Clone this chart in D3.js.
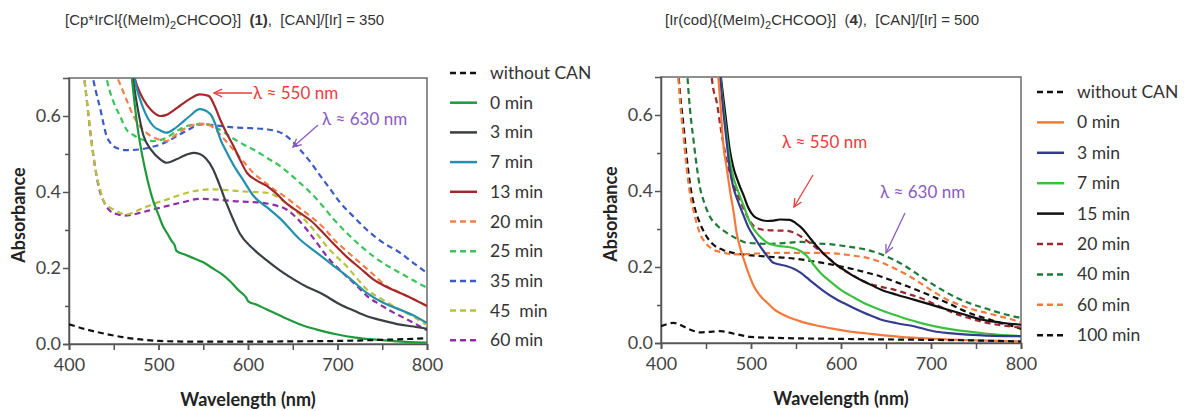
<!DOCTYPE html>
<html><head><meta charset="utf-8">
<script src="https://cdn.jsdelivr.net/npm/d3@7"></script>
<style>
body{margin:0;background:#fff;}
svg{display:block;}
.tick text{font-family:Lato, "Open Sans", sans-serif;font-size:18px;fill:#444;}
</style></head>
<body><svg id="c" width="1184" height="411"></svg>
<script>
// ---------- DATA ----------
const xTicks = [400, 500, 600, 700, 800];
const yTicks = [0.0, 0.2, 0.4, 0.6];
const leftTitle = ["[Cp*IrCl{(MeIm)", "2", "CHCOO}]  ", "(1)", ",  [CAN]/[Ir] = 350"];
const rightTitle = ["[Ir(cod){(MeIm)", "2", "CHCOO}]  (", "4", "),  [CAN]/[Ir] = 500"];

// Left panel: complex (1)
const L_withoutCAN = [[400,0.052],[420,0.038],[440,0.027],[460,0.018],[480,0.012],[500,0.008],[550,0.006],[600,0.006],[650,0.007],[700,0.008],[750,0.011],[800,0.015]];
const L_0min = [[468,0.75],[472,0.66],[476,0.58],[480,0.52],[485,0.46],[490,0.41],[495,0.37],[500,0.34],[505,0.31],[510,0.29],[515,0.27],[518,0.26],[520,0.245],[530,0.235],[540,0.225],[550,0.215],[560,0.2],[570,0.185],[580,0.165],[590,0.14],[598,0.122],[600,0.113],[610,0.103],[620,0.092],[640,0.07],[660,0.05],[680,0.036],[700,0.025],[720,0.017],[740,0.012],[760,0.008],[780,0.005],[800,0.004]];
const L_3min = [[470,0.72],[476,0.63],[483,0.55],[492,0.51],[502,0.486],[509,0.477],[520,0.486],[530,0.497],[539,0.503],[546,0.5],[553,0.488],[561,0.46],[568,0.42],[576,0.37],[584,0.325],[591,0.29],[606,0.25],[621,0.22],[636,0.193],[651,0.17],[666,0.15],[681,0.134],[703,0.104],[718,0.088],[733,0.073],[750,0.062],[770,0.051],[785,0.046],[800,0.04]];
const L_7min = [[471,0.72],[476,0.67],[483,0.62],[494,0.574],[502,0.562],[509,0.556],[517,0.565],[524,0.578],[535,0.6],[546,0.618],[558,0.605],[564,0.575],[569,0.54],[576,0.505],[584,0.47],[595,0.43],[606,0.39],[621,0.36],[636,0.33],[658,0.275],[677,0.24],[696,0.205],[715,0.17],[733,0.134],[750,0.11],[770,0.09],[785,0.075],[800,0.055]];
const L_13min = [[471,0.72],[476,0.68],[483,0.644],[492,0.615],[502,0.6],[509,0.603],[517,0.615],[524,0.627],[535,0.645],[546,0.657],[556,0.653],[563,0.625],[569,0.59],[576,0.555],[584,0.52],[591,0.485],[599,0.45],[610,0.43],[621,0.416],[632,0.395],[643,0.37],[658,0.345],[670,0.325],[681,0.3],[695,0.265],[710,0.23],[725,0.2],[740,0.17],[755,0.15],[770,0.134],[785,0.118],[800,0.10]];
const L_20min = [[450,0.72],[456,0.69],[464,0.644],[472,0.6],[479,0.574],[488,0.553],[498,0.54],[509,0.534],[518,0.548],[528,0.565],[537,0.575],[546,0.58],[554,0.578],[561,0.57],[573,0.54],[584,0.51],[595,0.48],[606,0.45],[618,0.427],[629,0.407],[640,0.39],[651,0.37],[662,0.35],[673,0.33],[685,0.305],[696,0.275],[710,0.245],[725,0.214],[740,0.183],[755,0.152],[767,0.138],[778,0.126],[790,0.112],[800,0.10]];
const L_25min = [[440,0.72],[445,0.67],[450,0.635],[457,0.6],[464,0.565],[472,0.55],[479,0.54],[494,0.534],[509,0.543],[520,0.56],[532,0.574],[543,0.578],[554,0.578],[566,0.567],[584,0.54],[595,0.525],[606,0.512],[621,0.49],[636,0.468],[647,0.447],[658,0.424],[670,0.398],[681,0.37],[695,0.33],[710,0.293],[725,0.26],[740,0.231],[755,0.207],[770,0.187],[785,0.167],[800,0.148]];
const L_35min = [[425,0.72],[430,0.665],[435,0.618],[439,0.575],[442,0.547],[446,0.53],[450,0.52],[457,0.513],[464,0.51],[479,0.512],[490,0.517],[502,0.525],[513,0.537],[524,0.552],[535,0.566],[546,0.578],[565,0.575],[584,0.57],[603,0.568],[621,0.565],[632,0.56],[640,0.552],[649,0.535],[658,0.512],[670,0.478],[681,0.442],[692,0.407],[703,0.372],[718,0.335],[733,0.30],[750,0.268],[770,0.24],[785,0.213],[800,0.187]];
const L_45min = [[416,0.72],[420,0.64],[423,0.574],[427,0.5],[431,0.442],[435,0.405],[438,0.38],[444,0.362],[450,0.354],[457,0.345],[464,0.341],[471,0.345],[479,0.354],[494,0.368],[509,0.38],[524,0.392],[539,0.402],[561,0.407],[576,0.405],[591,0.402],[606,0.4],[621,0.398],[632,0.388],[643,0.37],[655,0.347],[666,0.32],[677,0.29],[688,0.257],[699,0.23],[710,0.205],[722,0.172],[733,0.143],[748,0.12],[763,0.099],[780,0.078],[800,0.05]];
const L_60min = [[416,0.72],[420,0.64],[423,0.574],[427,0.5],[431,0.44],[435,0.398],[440,0.37],[446,0.35],[453,0.342],[461,0.338],[470,0.34],[479,0.345],[494,0.354],[509,0.363],[527,0.373],[546,0.382],[565,0.38],[584,0.376],[600,0.374],[614,0.372],[629,0.366],[643,0.354],[655,0.33],[666,0.3],[677,0.266],[688,0.231],[699,0.203],[710,0.178],[722,0.152],[733,0.126],[748,0.103],[763,0.082],[780,0.062],[800,0.036]];

// Right panel: complex (4)
const R_withoutCAN = [[400,0.044],[407,0.05],[414,0.053],[421,0.048],[428,0.04],[435,0.033],[443,0.028],[452,0.029],[466,0.031],[473,0.029],[480,0.025],[490,0.02],[499,0.016],[536,0.013],[592,0.011],[666,0.009],[740,0.007],[800,0.004]];
const R_0min = [[462,0.75],[466,0.63],[469,0.528],[473,0.46],[477,0.396],[481,0.34],[484,0.29],[488,0.25],[492,0.22],[497,0.185],[503,0.15],[510,0.125],[518,0.106],[525,0.09],[532,0.079],[544,0.066],[555,0.057],[573,0.046],[592,0.037],[610,0.03],[629,0.025],[648,0.02],[666,0.016],[703,0.011],[750,0.007],[800,0.004]];
const R_3min = [[464,0.75],[468,0.64],[473,0.528],[476,0.465],[480,0.413],[486,0.37],[492,0.334],[497,0.305],[503,0.281],[510,0.255],[518,0.229],[525,0.211],[533,0.206],[540,0.202],[548,0.195],[555,0.185],[562,0.172],[569,0.158],[580,0.138],[592,0.119],[603,0.105],[614,0.092],[629,0.076],[644,0.062],[662,0.052],[681,0.044],[703,0.031],[720,0.026],[740,0.022],[770,0.019],[800,0.018]];
const R_7min = [[464,0.75],[468,0.65],[473,0.545],[476,0.49],[480,0.44],[486,0.397],[492,0.36],[497,0.327],[503,0.3],[510,0.28],[518,0.264],[525,0.258],[532,0.255],[540,0.253],[547,0.25],[555,0.242],[562,0.229],[569,0.208],[577,0.185],[588,0.162],[599,0.141],[614,0.12],[629,0.101],[644,0.087],[658,0.075],[673,0.063],[688,0.053],[706,0.043],[725,0.035],[760,0.025],[800,0.018]];
const R_15min = [[464,0.75],[468,0.67],[473,0.572],[476,0.515],[480,0.466],[486,0.422],[492,0.387],[497,0.356],[503,0.334],[510,0.325],[518,0.321],[525,0.322],[532,0.325],[543,0.324],[550,0.315],[558,0.299],[565,0.278],[573,0.255],[582,0.232],[592,0.211],[603,0.193],[614,0.176],[629,0.158],[644,0.141],[662,0.127],[681,0.114],[700,0.101],[718,0.088],[737,0.075],[755,0.062],[777,0.054],[800,0.048]];
const R_20min = [[454,0.75],[458,0.67],[462,0.633],[466,0.57],[469,0.528],[474,0.47],[480,0.422],[486,0.385],[492,0.352],[497,0.328],[503,0.308],[510,0.3],[518,0.297],[529,0.296],[540,0.295],[548,0.29],[555,0.281],[566,0.262],[577,0.242],[588,0.22],[599,0.198],[614,0.177],[629,0.158],[644,0.148],[658,0.141],[673,0.13],[688,0.119],[706,0.1],[725,0.079],[743,0.065],[762,0.053],[780,0.046],[800,0.04]];
const R_40min = [[428,0.75],[432,0.62],[436,0.536],[440,0.46],[443,0.413],[448,0.37],[454,0.334],[463,0.308],[473,0.29],[484,0.275],[495,0.264],[518,0.261],[536,0.263],[555,0.266],[573,0.262],[592,0.259],[610,0.253],[629,0.245],[644,0.234],[658,0.22],[673,0.2],[688,0.176],[703,0.153],[718,0.132],[732,0.115],[747,0.101],[762,0.09],[777,0.079],[790,0.071],[800,0.066]];
const R_60min = [[418,0.75],[421,0.64],[425,0.545],[428,0.47],[432,0.396],[437,0.34],[443,0.29],[450,0.262],[458,0.246],[469,0.238],[480,0.233],[495,0.234],[510,0.236],[532,0.237],[555,0.237],[573,0.237],[592,0.236],[610,0.231],[629,0.224],[644,0.213],[658,0.198],[673,0.18],[688,0.158],[703,0.135],[718,0.114],[732,0.1],[747,0.088],[762,0.079],[777,0.07],[790,0.062],[800,0.053]];
const R_100min = [[418,0.75],[421,0.66],[425,0.572],[428,0.5],[432,0.422],[437,0.36],[443,0.317],[450,0.283],[458,0.259],[469,0.245],[480,0.237],[495,0.232],[510,0.229],[525,0.226],[540,0.224],[555,0.22],[569,0.215],[584,0.209],[599,0.202],[614,0.194],[629,0.185],[644,0.175],[658,0.163],[673,0.15],[688,0.136],[703,0.121],[718,0.106],[732,0.09],[747,0.075],[762,0.064],[777,0.053],[790,0.045],[800,0.037]];

const leftSeries = [
  {name:"without CAN", data:L_withoutCAN, color:"#111111", dash:true},
  {name:"0 min",  data:L_0min,  color:"#1f9a3a", dash:false},
  {name:"3 min",  data:L_3min,  color:"#3a3f44", dash:false},
  {name:"7 min",  data:L_7min,  color:"#2390ad", dash:false},
  {name:"13 min", data:L_13min, color:"#a3282c", dash:false},
  {name:"20 min", data:L_20min, color:"#f2804a", dash:true},
  {name:"25 min", data:L_25min, color:"#3cc45a", dash:true},
  {name:"35 min", data:L_35min, color:"#3a5cc4", dash:true},
  {name:"45  min", data:L_45min, color:"#b9c23a", dash:true},
  {name:"60 min", data:L_60min, color:"#8e2fa6", dash:true}
];
const rightSeries = [
  {name:"without CAN", data:R_withoutCAN, color:"#111111", dash:true},
  {name:"0 min",  data:R_0min,  color:"#f47a3c", dash:false},
  {name:"3 min",  data:R_3min,  color:"#343c8e", dash:false},
  {name:"7 min",  data:R_7min,  color:"#3cc040", dash:false},
  {name:"15 min", data:R_15min, color:"#111111", dash:false},
  {name:"20 min", data:R_20min, color:"#9c2a2e", dash:true},
  {name:"40 min", data:R_40min, color:"#1d7a38", dash:true},
  {name:"60 min", data:R_60min, color:"#f47a3c", dash:true},
  {name:"100 min", data:R_100min, color:"#111111", dash:true}
];

// ---------- DRAW ----------
const svg = d3.select("#c");
const tickFont = "Lato, 'Open Sans', sans-serif";

function panel(cfg){
  const x = d3.scaleLinear().domain([400,800]).range([cfg.x0, cfg.x1]);
  const y = d3.scaleLinear().domain([0,0.7]).range([cfg.y0, cfg.y1]);
  const g = svg.append("g");
  const clipId = "clip"+cfg.id;
  svg.append("clipPath").attr("id",clipId).append("rect")
    .attr("x",cfg.x0).attr("y",cfg.y1).attr("width",cfg.x1-cfg.x0).attr("height",cfg.y0-cfg.y1);

  // frame (top/right)
  g.append("rect").attr("x",cfg.x0).attr("y",cfg.y1).attr("width",cfg.x1-cfg.x0).attr("height",cfg.y0-cfg.y1)
    .attr("fill","none").attr("stroke","#6b6b6b").attr("stroke-width",1.5);

  // minor ticks
  const xa = g.append("g").attr("transform",`translate(0,${cfg.y0})`)
    .call(d3.axisBottom(x).tickValues(d3.range(400,801,50)).tickSize(6).tickFormat(""));
  xa.select(".domain").remove();
  xa.selectAll("line").attr("stroke","#555").attr("stroke-width",1.5);
  const xl = g.append("g").attr("transform",`translate(0,${cfg.y0})`)
    .call(d3.axisBottom(x).tickValues(xTicks).tickSize(6).tickPadding(8).tickFormat(d3.format("d")));
  xl.select(".domain").attr("stroke","#555").attr("stroke-width",1.5);
  xl.selectAll("line").attr("stroke","#555").attr("stroke-width",1.5);

  const ya = g.append("g").attr("transform",`translate(${cfg.x0},0)`)
    .call(d3.axisLeft(y).tickValues([0.1,0.3,0.5]).tickSize(4).tickFormat(""));
  ya.select(".domain").remove();
  ya.selectAll("line").attr("stroke","#555").attr("stroke-width",1.5);
  const yl = g.append("g").attr("transform",`translate(${cfg.x0},0)`)
    .call(d3.axisLeft(y).tickValues(yTicks).tickSize(6).tickPadding(2).tickFormat(d3.format(".1f")));
  yl.select(".domain").attr("stroke","#555").attr("stroke-width",1.5);
  yl.selectAll("line").attr("stroke","#555").attr("stroke-width",1.5);
  g.selectAll(".tick text").attr("font-family",tickFont).attr("font-size",18).attr("fill","#444");

  // axis labels
  g.append("text").attr("x",(cfg.x0+cfg.x1)/2).attr("y",cfg.y0+62).attr("text-anchor","middle")
    .attr("font-family",tickFont).attr("font-weight","bold").attr("font-size",18).attr("fill","#222")
    .text("Wavelength (nm)");
  g.append("text").attr("transform",`translate(${cfg.x0-44},${(cfg.y0+cfg.y1)/2+4}) rotate(-90)`)
    .attr("text-anchor","middle")
    .attr("font-family",tickFont).attr("font-weight","bold").attr("font-size",18).attr("fill","#222")
    .text("Absorbance");

  // curves
  const line = d3.line().x(d=>x(d[0])).y(d=>y(d[1])).curve(d3.curveMonotoneX);
  const cg = g.append("g").attr("clip-path",`url(#${clipId})`);
  cfg.series.slice().reverse().forEach(s=>{
    cg.append("path").attr("d",line(s.data)).attr("fill","none")
      .attr("stroke",s.color).attr("stroke-width",2.2)
      .attr("stroke-dasharray",s.dash?"6,4":null);
  });

  // legend
  const lg = g.append("g");
  cfg.series.forEach((s,i)=>{
    const yy = cfg.legY + i*cfg.legStep;
    lg.append("line").attr("x1",cfg.legX).attr("x2",cfg.legX+27).attr("y1",yy).attr("y2",yy)
      .attr("stroke",s.color).attr("stroke-width",2.5).attr("stroke-dasharray",s.dash?"6,4":null);
    lg.append("text").attr("x",cfg.legX+40).attr("y",yy+6).attr("font-family",tickFont)
      .attr("font-size",17.5).attr("fill","#333").style("white-space","pre").text(s.name);
  });

  // title
  const t = svg.append("text").attr("x",cfg.titleX).attr("y",25).attr("font-family","'Liberation Sans', Arial, sans-serif")
    .attr("font-size",15).attr("fill","#333").style("white-space","pre");
  cfg.title.forEach((part,i)=>{
    const ts = t.append("tspan").text(part);
    if(i===1){ ts.attr("font-size",11).attr("dy",4); }
    if(i===2){ ts.attr("dy",-4); }
    if(i===3){ ts.attr("font-weight","bold"); }
  });

  // annotations
  cfg.notes.forEach(n=>{
    g.append("text").attr("x",n.tx).attr("y",n.ty).attr("font-family",tickFont).attr("font-size",17)
      .attr("fill",n.color).text(n.text);
    g.append("line").attr("x1",n.a[0]).attr("y1",n.a[1]).attr("x2",n.a[2]).attr("y2",n.a[3])
      .attr("stroke",n.color).attr("stroke-width",1.3);
    const ang = Math.atan2(n.a[3]-n.a[1], n.a[2]-n.a[0]);
    const L=9, w=0.45;
    const p = [[n.a[2]-L*Math.cos(ang-w), n.a[3]-L*Math.sin(ang-w)],[n.a[2],n.a[3]],[n.a[2]-L*Math.cos(ang+w), n.a[3]-L*Math.sin(ang+w)]];
    g.append("polyline").attr("points",p.map(q=>q.join(",")).join(" ")).attr("fill","none")
      .attr("stroke",n.color).attr("stroke-width",1.3);
  });
}

panel({id:"L", x0:69, x1:427, y0:344, y1:78, series:leftSeries, legX:450, legY:73, legStep:29.7,
  title:leftTitle, titleX:65,
  notes:[
    {text:"λ ≈ 550 nm", color:"#ee3b3b", tx:253, ty:99, a:[252,93,214,93]},
    {text:"λ ≈ 630 nm", color:"#8a5ac2", tx:322, ty:125, a:[318,125,293,147]}
  ]});
panel({id:"R", x0:661, x1:1021, y0:343, y1:77, series:rightSeries, legX:1037, legY:92, legStep:30.4,
  title:rightTitle, titleX:665,
  notes:[
    {text:"λ ≈ 550 nm", color:"#ee3b3b", tx:782, ty:148, a:[813,175,794,207]},
    {text:"λ ≈ 630 nm", color:"#8a5ac2", tx:880, ty:198, a:[905,213,886,253]}
  ]});
</script></body></html>
